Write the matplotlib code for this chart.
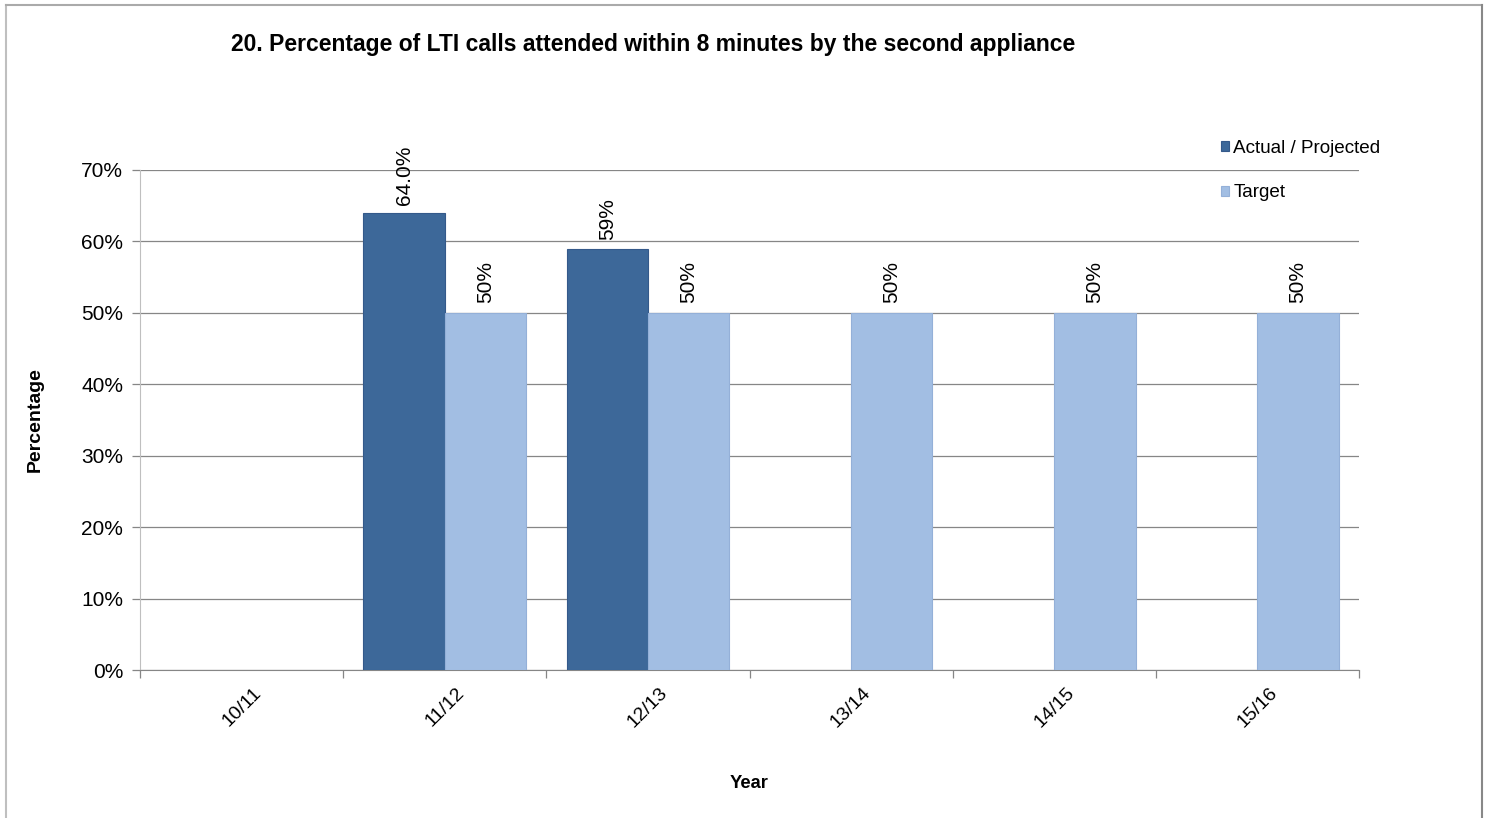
import matplotlib

matplotlib.use("Agg")

import matplotlib.pyplot as plt
import numpy as np
from matplotlib.lines import Line2D
from matplotlib.ticker import FuncFormatter

plt.rcParams["font.family"] = ["Liberation Sans", "DejaVu Sans"]

YEARS = ["10/11", "11/12", "12/13", "13/14", "14/15", "15/16"]
ACTUAL = [np.nan, 64.0, 59.0, np.nan, np.nan, np.nan]
TARGET = [np.nan, 50.0, 50.0, 50.0, 50.0, 50.0]
ACTUAL_LABELS = ["", "64.0%", "59%", "", "", ""]
TARGET_LABELS = ["", "50%", "50%", "50%", "50%", "50%"]

DARK = "#3D6899"
LIGHT = "#A2BEE3"
GRID = "#868686"

fig = plt.figure(figsize=(14.91, 8.18), dpi=100)
ax = fig.add_axes([0.0939, 0.1809, 0.8176, 0.6113])

x = np.arange(len(YEARS))
width = 0.4
ax.bar(x - width / 2, ACTUAL, width, color=DARK, edgecolor="#34598A", linewidth=0.8,
       label="Actual / Projected", zorder=3)
ax.bar(x + width / 2, TARGET, width, color=LIGHT, edgecolor="#94B0D8", linewidth=0.8,
       label="Target", zorder=3)

for xi, val, lab in zip(x, ACTUAL, ACTUAL_LABELS):
    if lab:
        ax.annotate(lab, (xi - width / 2, val), xytext=(0, 6), textcoords="offset points",
                    rotation=90, ha="center", va="bottom", fontsize=15)
for xi, val, lab in zip(x, TARGET, TARGET_LABELS):
    if lab:
        ax.annotate(lab, (xi + width / 2, val), xytext=(0, 7), textcoords="offset points",
                    rotation=90, ha="center", va="bottom", fontsize=15)

ax.set_xlim(-0.5, len(YEARS) - 0.5)
ax.set_ylim(0, 70)
ax.set_yticks(np.arange(0, 71, 10))
ax.yaxis.set_major_formatter(FuncFormatter(lambda v, _: f"{v:.0f}%"))
ax.yaxis.grid(True, color=GRID, linewidth=0.9, zorder=0)
ax.set_axisbelow(True)

ax.set_xticks(x)
ax.set_xticklabels(YEARS, rotation=45, ha="center", va="top", fontsize=14)
ax.set_xticks(np.arange(-0.5, len(YEARS)), minor=True)
ax.tick_params(axis="x", which="major", length=0, pad=10)
ax.tick_params(axis="x", which="minor", length=6, color=GRID, width=0.9)
ax.tick_params(axis="y", length=6, color=GRID, width=0.9, labelsize=15, pad=6)

for side in ["top", "right"]:
    ax.spines[side].set_visible(False)
ax.spines["left"].set_color("#BFBFBF")
ax.spines["bottom"].set_color(GRID)

ax.set_xlabel("Year", fontsize=13.2, fontweight="bold", labelpad=32)
ax.set_ylabel("Percentage", fontsize=14, fontweight="bold", labelpad=27)

fig.text(0.438, 0.945, "20. Percentage of LTI calls attended within 8 minutes by the second appliance",
         ha="center", va="center", fontsize=16.5, fontweight="bold")

ax.legend(loc="upper left", bbox_to_anchor=(0.8727, 1.094), frameon=False, fontsize=13.6,
          handlelength=0.45, handleheight=0.45, handletextpad=0.2, labelspacing=1.45)

# outer frame of the chart area
fig.add_artist(Line2D([0.0043, 0.0043], [0.0, 0.994], transform=fig.transFigure, color="#BFBFBF", lw=1.5))
fig.add_artist(Line2D([0.0043, 0.994], [0.994, 0.994], transform=fig.transFigure, color="#AAAAAA", lw=1.5))
fig.add_artist(Line2D([0.994, 0.994], [0.0, 0.994], transform=fig.transFigure, color="#888888", lw=1.5))

fig.savefig("out.png", dpi=100)
